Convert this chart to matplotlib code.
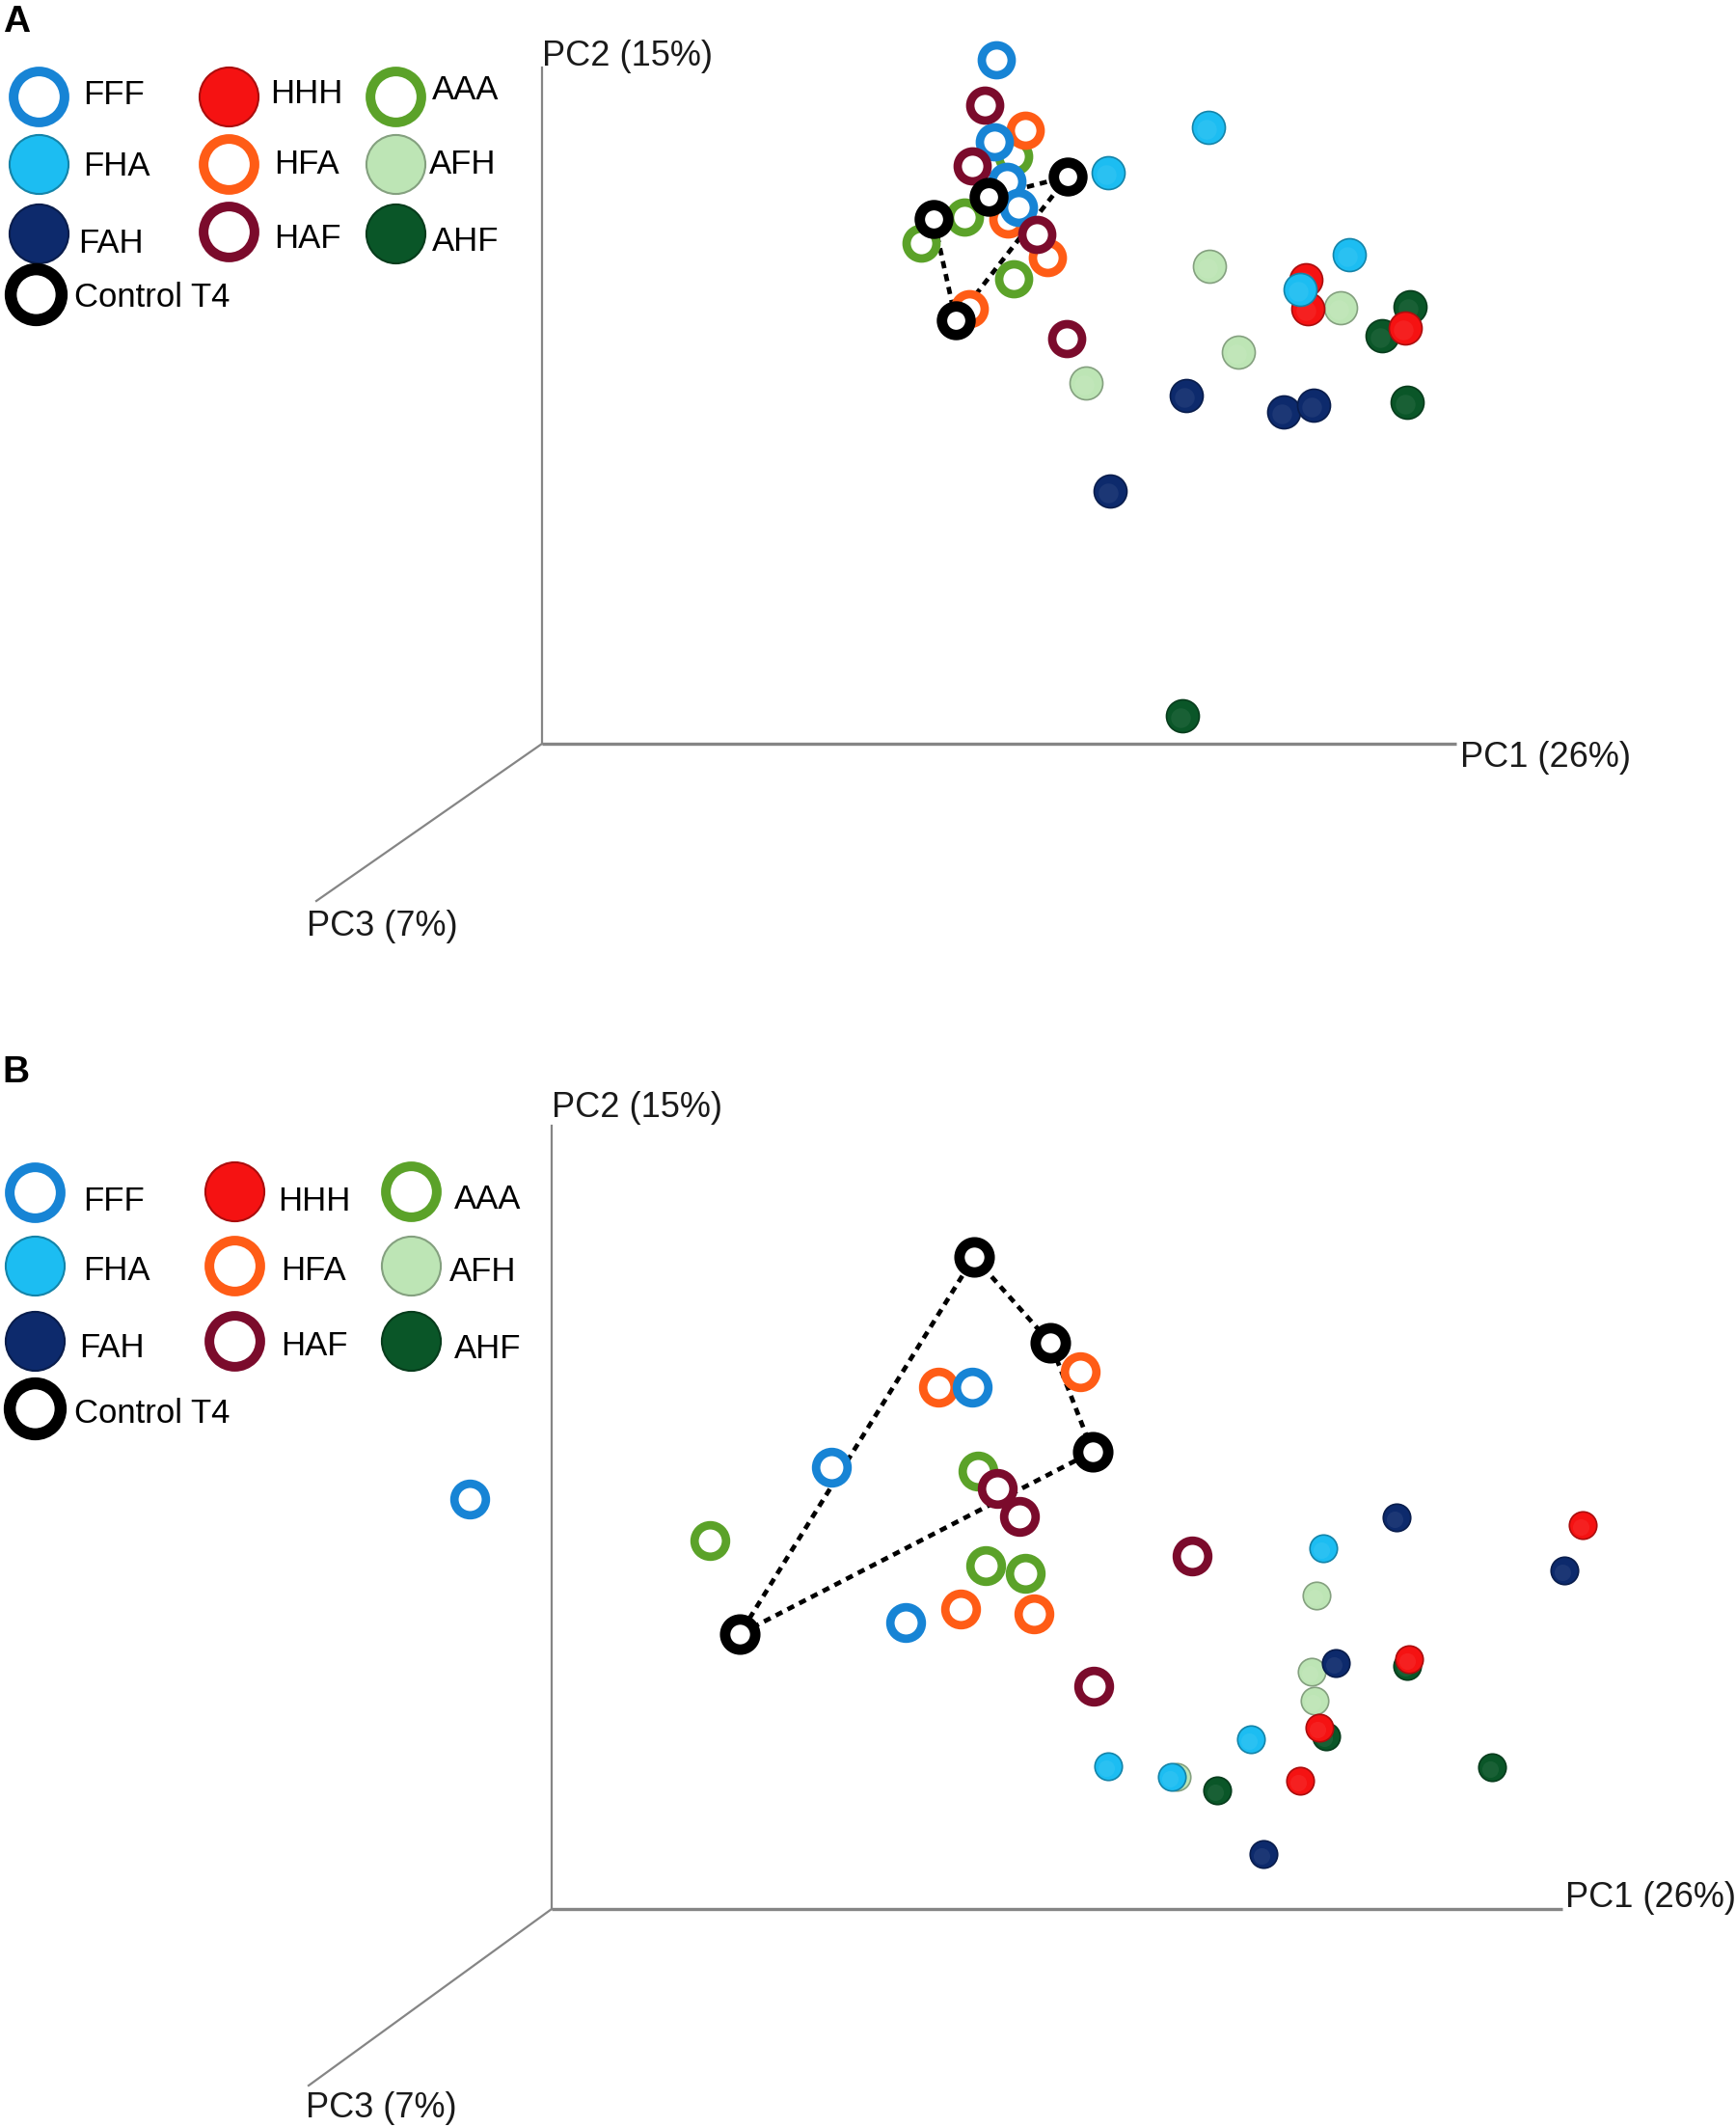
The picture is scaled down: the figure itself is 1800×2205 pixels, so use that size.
import matplotlib
matplotlib.use('Agg')
import matplotlib.pyplot as plt
from matplotlib.colors import to_rgb

W, H = 1800, 2205
plt.rcParams['font.family'] = ['Liberation Sans', 'DejaVu Sans']

groups = ['FFF', 'FHA', 'FAH', 'HHH', 'HFA', 'HAF', 'AAA', 'AFH', 'AHF', 'Control T4']
colors = {'FFF': '#1784d5', 'FHA': '#1cbdf2', 'FAH': '#0d2a6c',
          'HHH': '#f51212', 'HFA': '#ff5c16', 'HAF': '#7b0b2c',
          'AAA': '#5ba229', 'AFH': '#bde5b5', 'AHF': '#0a5628',
          'Control T4': '#000000'}
hollow = ['FFF', 'HFA', 'HAF', 'AAA', 'Control T4']

# projected PCoA coordinates (screen units from the drawn origin)
# panel A
A_FFF = ([471, 469, 482, 494], [709, 624, 583, 556])
A_FHA = ([587, 691, 837, 786], [592, 639, 507, 471])
A_FAH = ([668, 769, 800, 589], [361, 344, 351, 262])
A_HHH = ([792, 794, 895], [481, 451, 431])
A_HFA = ([501, 483, 524, 443], [636, 544, 504, 451])
A_HAF = ([459, 446, 513, 544], [662, 599, 528, 420])
A_AAA = ([489, 438, 393, 489], [609, 546, 519, 482])
A_AFH = ([692, 828, 722, 564], [495, 452, 406, 374])
A_AHF = ([900, 871, 897, 664], [453, 423, 354, 29])
A_CTL = ([463, 545, 429, 406], [567, 588, 439, 544])

# panel B
B_FFF = ([436, 290, 367, -85], [541, 458, 297, 425])
B_FHA = ([800, 725, 577, 643], [374, 176, 148, 137])
B_FAH = ([876, 1050, 813, 738], [406, 351, 255, 57])
B_HHH = ([1069, 889, 796, 776], [398, 259, 188, 133])
B_HFA = ([548, 401, 424, 500], [557, 541, 311, 306])
B_HAF = ([462, 485, 664, 562], [436, 407, 366, 231])
B_AAA = ([442, 164, 450, 491], [454, 382, 356, 348])
B_AFH = ([793, 788, 791, 648], [325, 246, 216, 137])
B_AHF = ([887, 803, 690, 975], [252, 179, 123, 147])
B_CTL = ([438, 517, 561, 195], [676, 587, 474, 285])

pc_labels = ['PC1 (26%)', 'PC2 (15%)', 'PC3 (7%)']


def shade(c, f):
    r, g, b = to_rgb(c)
    if f < 0:
        return (r * (1 + f), g * (1 + f), b * (1 + f))
    return (r + (1 - r) * f, g + (1 - g) * f, b + (1 - b) * f)


def ball(ax, x, y, c, ms, z):
    ax.plot(x, y, 'o', ms=ms, color=c, mec=shade(c, -0.3), mew=1.2,
            ls='none', zorder=z)
    ax.plot([v - ms * 0.08 for v in x], [v - ms * 0.10 for v in y], 'o',
            ms=ms * 0.6, color=shade(c, 0.25), mew=0, alpha=0.25,
            ls='none', zorder=z)


def ring(ax, x, y, c, ms, mew, z):
    ax.plot(x, y, 'o', ms=ms, mfc='white', mec=c, mew=mew, ls='none', zorder=z)


fig = plt.figure(figsize=(W / 100, H / 100), dpi=100)


def panel_axes(y0, y1, ox, oy):
    ax = fig.add_axes([0, 1 - y1 / H, 1, (y1 - y0) / H])
    ax.set_xlim(-ox, W - ox)
    ax.set_ylim(oy - y1, oy - y0)
    ax.axis('off')
    return ax


def draw_panel(ax, data, pc1, pc2, pc3, lab_pos, ms_ring, ms_ball, closed):
    axc = '#858585'
    ax.plot([0, pc1], [0, 0], color=axc, lw=2.4, zorder=1, solid_capstyle='butt')
    ax.plot([0, 0], [0, pc2], color=axc, lw=1.6, zorder=1)
    ax.plot([0, pc3[0]], [0, pc3[1]], color=axc, lw=1.6, zorder=1)
    for t, (lx, ly) in zip(pc_labels, lab_pos):
        ax.text(lx, ly, t, fontsize=26, color='#1a1a1a', ha='left', va='baseline')

    cx, cy = data['Control T4']
    if closed:
        cx, cy = cx + cx[:1], cy + cy[:1]
    ax.plot(cx, cy, color='black', lw=3.4, dashes=(1.6, 1.3), zorder=2)

    z = 3
    for g in ['AHF', 'AFH', 'HHH', 'FAH', 'FHA']:
        x, y = data[g]
        ball(ax, x, y, colors[g], ms_ball, z)
        z += 1
    for g in ['AAA', 'HFA', 'FFF', 'HAF']:
        x, y = data[g]
        ring(ax, x, y, colors[g], ms_ring, 6.3, z)
        z += 1
    ring(ax, data['Control T4'][0], data['Control T4'][1], 'black', ms_ring - 1, 7.8, z)


axA = panel_axes(0, 1100, 562, 771)
dataA = {'FFF': A_FFF, 'FHA': A_FHA, 'FAH': A_FAH, 'HHH': A_HHH, 'HFA': A_HFA,
         'HAF': A_HAF, 'AAA': A_AAA, 'AFH': A_AFH, 'AHF': A_AHF, 'Control T4': A_CTL}
draw_panel(axA, dataA, 948, 701, (-234, -163),
           [(952, -24), (0, 703), (-244, -199)], 22.3, 24.5, False)

axB = panel_axes(1100, 2205, 572, 1979)
dataB = {'FFF': B_FFF, 'FHA': B_FHA, 'FAH': B_FAH, 'HHH': B_HHH, 'HFA': B_HFA,
         'HAF': B_HAF, 'AAA': B_AAA, 'AFH': B_AFH, 'AHF': B_AHF, 'Control T4': B_CTL}
draw_panel(axB, dataB, 1048, 812, (-252, -183),
           [(1051, 2), (0, 821), (-255, -216)], 23.5, 20.5, True)

# legends and panel letters in figure pixels
ov = fig.add_axes([0, 0, 1, 1])
ov.set_xlim(0, W)
ov.set_ylim(H, 0)
ov.axis('off')

leg_A = {'FFF': (40, 100, 86, 108), 'HHH': (237, 100, 280, 107), 'AAA': (410, 100, 448, 103),
         'FHA': (40, 170, 86, 182), 'HFA': (237, 170, 284, 180), 'AFH': (410, 170, 445, 180),
         'FAH': (40, 242, 81, 262), 'HAF': (237, 240, 284, 257), 'AHF': (410, 242, 448, 260),
         'Control T4': (37, 305, 77, 318)}
leg_B = {'FFF': (36, 1236, 86, 1255), 'HHH': (243, 1235, 288, 1255), 'AAA': (426, 1235, 471, 1253),
         'FHA': (36, 1312, 86, 1327), 'HFA': (243, 1312, 291, 1327), 'AFH': (426, 1312, 466, 1328),
         'FAH': (36, 1390, 82, 1407), 'HAF': (243, 1390, 291, 1405), 'AHF': (426, 1390, 471, 1408),
         'Control T4': (36, 1460, 77, 1475)}

for leg in (leg_A, leg_B):
    for g in groups:
        mx, my, tx, ty = leg[g]
        c = colors[g]
        if g in hollow:
            mew = 9.0 if g == 'Control T4' else 7.2
            ov.plot([mx], [my], 'o', ms=38, mfc='white', mec=c, mew=mew)
        else:
            ov.plot([mx], [my], 'o', ms=44, color=c, mec=shade(c, -0.3), mew=1.5)
        ov.text(tx, ty, g, fontsize=25, color='black', ha='left', va='baseline')

ov.text(3, 33, 'A', fontsize=28, fontweight='bold', ha='left', va='baseline')
ov.text(2, 1122, 'B', fontsize=28, fontweight='bold', ha='left', va='baseline')

fig.savefig('out.png', dpi=100, facecolor='white')
